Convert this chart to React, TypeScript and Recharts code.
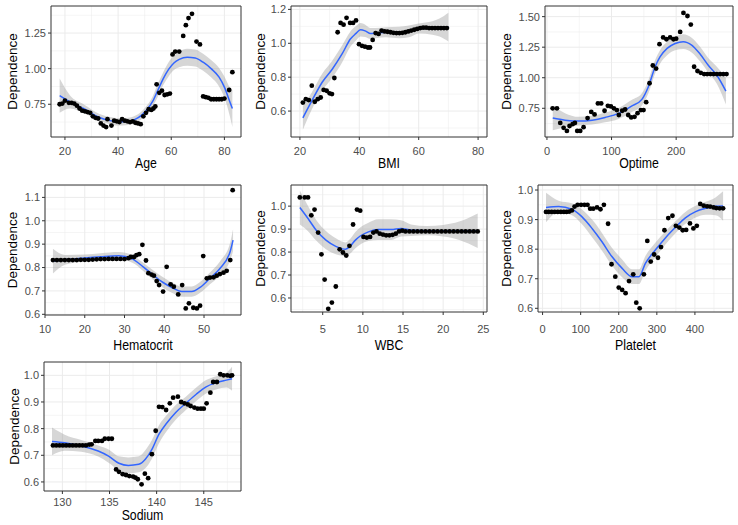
import { Area, CartesianGrid, ComposedChart, Label, Line, ReferenceArea, Scatter, XAxis, YAxis } from "recharts";

const FONT = '"Liberation Sans", Arial, sans-serif';

// points: [x, dependence]   fit: [x, lower, smooth, upper]
const agePoints = [
  [18, 0.75], [19, 0.755], [20, 0.775], [21.5, 0.76], [22.5, 0.76], [23.5, 0.755], [24.5, 0.74], [25.5, 0.72],
  [26.5, 0.705], [27.5, 0.7], [28.5, 0.695], [29.5, 0.69], [30.5, 0.665], [31.5, 0.655], [32.5, 0.65], [33.5, 0.615],
  [34.5, 0.6], [35.5, 0.59], [36, 0.645], [37.5, 0.6], [38.5, 0.635], [39.5, 0.63], [40.5, 0.625], [41.5, 0.645],
  [42.5, 0.635], [43.5, 0.63], [44.5, 0.625], [45.5, 0.63], [46.5, 0.62], [47.5, 0.615], [48.5, 0.61], [49.5, 0.665],
  [50.5, 0.69], [51.5, 0.715], [52.5, 0.71], [53.3, 0.72], [54, 0.735], [54.5, 0.89], [55.5, 0.83], [56.5, 0.845],
  [57.5, 0.815], [58.5, 0.82], [59.5, 0.825], [60.5, 1.1], [61.5, 1.12], [63, 1.12], [64.5, 1.23], [65.5, 1.305],
  [66.5, 1.355], [67.8, 1.385], [69.5, 1.19], [70.8, 1.17], [72, 0.805], [73, 0.8], [74, 0.795], [75, 0.785],
  [76, 0.785], [77, 0.785], [78, 0.785], [79, 0.785], [80, 0.79], [81.8, 0.85], [83, 0.975],
];
const ageFit = [
  [18, 0.69, 0.81, 0.93], [22, 0.72, 0.765, 0.81], [27, 0.69, 0.72, 0.75], [33, 0.632, 0.657, 0.682],
  [37, 0.61, 0.635, 0.66], [40, 0.6, 0.626, 0.652], [43, 0.603, 0.628, 0.653], [46, 0.615, 0.64, 0.665],
  [49, 0.648, 0.675, 0.702], [51, 0.685, 0.715, 0.745], [53, 0.735, 0.77, 0.805], [55, 0.805, 0.85, 0.895],
  [57, 0.885, 0.93, 0.975], [59, 0.945, 0.995, 1.045], [61, 0.99, 1.04, 1.09], [63, 1.01, 1.065, 1.12],
  [66, 1.02, 1.08, 1.14], [69, 1.015, 1.075, 1.135], [72, 0.985, 1.045, 1.105], [75, 0.94, 1.0, 1.06],
  [78, 0.875, 0.94, 1.005], [80, 0.795, 0.87, 0.945], [82, 0.67, 0.77, 0.87], [83, 0.59, 0.72, 0.85],
];

const bmiPoints = [
  [21, 0.65], [22, 0.67], [23, 0.665], [24, 0.75], [25, 0.655], [26, 0.67], [27, 0.68], [28, 0.725], [29, 0.72],
  [30, 0.705], [30.8, 0.7], [31.6, 0.795], [32.7, 1.065], [33.7, 1.12], [34.7, 1.11], [35.7, 1.15], [36.9, 1.12],
  [37.9, 1.12], [38.9, 1.135], [39.9, 0.995], [40.9, 0.985], [41.9, 0.98], [42.9, 0.975], [43.6, 0.975],
  [44.5, 1.02], [45.5, 1.06], [46.5, 1.055], [47.5, 1.075], [48.5, 1.07], [49.5, 1.068], [50.5, 1.065],
  [51.5, 1.062], [52.5, 1.06], [53.5, 1.06], [54.5, 1.062], [55.5, 1.065], [56.5, 1.07], [57.5, 1.075],
  [58.5, 1.08], [59.5, 1.085], [60.5, 1.09], [61.5, 1.092], [62.5, 1.092], [63.5, 1.09], [64.5, 1.09],
  [65.5, 1.09], [66.5, 1.09], [67.5, 1.09], [68.5, 1.09], [69.5, 1.09],
];
const bmiFit = [
  [21, 0.49, 0.56, 0.63], [24, 0.61, 0.66, 0.71], [27.5, 0.72, 0.77, 0.82], [31, 0.8, 0.85, 0.9],
  [34.3, 0.89, 0.94, 0.99], [37, 0.98, 1.025, 1.07], [38.8, 1.015, 1.057, 1.1], [40.4, 1.04, 1.08, 1.12],
  [42, 1.037, 1.073, 1.11], [43.8, 1.025, 1.057, 1.09], [45.5, 1.03, 1.06, 1.09], [49, 1.035, 1.065, 1.095],
  [53.4, 1.03, 1.063, 1.097], [56.7, 1.035, 1.07, 1.105], [60, 1.057, 1.087, 1.117], [64.6, 1.05, 1.09, 1.13],
  [67, 1.04, 1.093, 1.146], [70, 1.01, 1.096, 1.18],
];

const optimePoints = [
  [8.8, 0.75], [15.5, 0.75], [20.6, 0.63], [25.8, 0.59], [30.9, 0.565], [35, 0.605], [39.7, 0.62], [43.3, 0.63],
  [46.9, 0.565], [51.5, 0.565], [56.7, 0.595], [62.9, 0.67], [68.6, 0.72], [73.7, 0.7], [78.9, 0.79], [84, 0.79],
  [89.2, 0.73], [94.3, 0.77], [99, 0.765], [103.6, 0.75], [108.2, 0.735], [111.3, 0.695], [116.5, 0.73],
  [121, 0.74], [125.8, 0.695], [130.4, 0.675], [135.6, 0.68], [140.2, 0.71], [145.4, 0.735], [149.5, 0.735],
  [153.6, 0.8], [158.8, 0.955], [163.9, 1.1], [169, 1.075], [174.2, 1.275], [179.9, 1.33], [185, 1.315],
  [190.7, 1.33], [195.9, 1.315], [200, 1.32], [206.2, 1.375], [211.3, 1.53], [217.5, 1.505], [222.7, 1.435],
  [227.8, 1.09], [233, 1.055], [238.1, 1.04], [243.3, 1.03], [248, 1.03], [253, 1.03], [258, 1.03], [263, 1.03],
  [268, 1.03], [273, 1.03], [278, 1.03],
];
const optimeFit = [
  [9, 0.57, 0.67, 0.77], [28, 0.595, 0.653, 0.71], [49, 0.61, 0.645, 0.68], [70, 0.618, 0.653, 0.688],
  [90, 0.635, 0.675, 0.715], [111, 0.663, 0.708, 0.753], [131, 0.718, 0.768, 0.818], [147, 0.773, 0.823, 0.873],
  [157, 0.873, 0.926, 0.979], [167.5, 1.035, 1.09, 1.145], [175, 1.115, 1.17, 1.225], [186, 1.185, 1.24, 1.295],
  [198.5, 1.225, 1.28, 1.335], [211, 1.235, 1.295, 1.355], [224, 1.207, 1.267, 1.327], [237, 1.134, 1.194, 1.254],
  [250, 1.04, 1.1, 1.16], [263, 0.95, 1.02, 1.09], [277, 0.78, 0.89, 1.0],
];

const hematocritPoints = [
  [12, 0.832], [13, 0.832], [14, 0.832], [15, 0.832], [16, 0.832], [17, 0.832], [18, 0.832], [19, 0.833],
  [20, 0.833], [21, 0.833], [22, 0.834], [23, 0.835], [24, 0.836], [25, 0.836], [26, 0.837], [27, 0.837],
  [28, 0.837], [29, 0.837], [30, 0.836], [31, 0.84], [31.6, 0.845], [32.4, 0.845], [33, 0.853], [33.7, 0.857],
  [34.5, 0.897], [35.4, 0.83], [36, 0.776], [36.8, 0.77], [37.4, 0.765], [38.1, 0.742], [38.7, 0.725],
  [39.7, 0.697], [40.6, 0.803], [41.6, 0.728], [42.4, 0.718], [43.5, 0.685], [44.5, 0.725], [45.4, 0.625],
  [46.2, 0.647], [47.3, 0.628], [48.2, 0.625], [49, 0.637], [49.8, 0.849], [50.7, 0.754], [51.5, 0.757],
  [52.4, 0.758], [53.2, 0.765], [54, 0.772], [54.9, 0.778], [55.7, 0.786], [56.6, 0.832], [57.2, 1.131],
];
const hematocritFit = [
  [12, 0.775, 0.828, 0.88], [15, 0.812, 0.833, 0.854], [20, 0.826, 0.841, 0.856], [24, 0.831, 0.846, 0.861],
  [28.5, 0.834, 0.85, 0.866], [32, 0.82, 0.836, 0.852], [34.7, 0.785, 0.803, 0.821], [37.2, 0.748, 0.768, 0.788],
  [39.7, 0.714, 0.736, 0.758], [42.3, 0.689, 0.711, 0.733], [44.4, 0.675, 0.697, 0.719], [46.9, 0.675, 0.697, 0.719],
  [49, 0.692, 0.715, 0.738], [51.5, 0.729, 0.754, 0.779], [54, 0.766, 0.796, 0.826], [56.6, 0.832, 0.87, 0.908],
  [57.3, 0.87, 0.917, 0.964],
];

const wbcPoints = [
  [2.15, 1.038], [2.76, 1.038], [3.17, 1.038], [3.58, 0.96], [3.98, 0.985], [4.43, 0.885], [4.84, 0.79],
  [5.24, 0.68], [5.69, 0.553], [6.14, 0.58], [6.63, 0.65], [7.11, 0.812], [7.52, 0.798], [7.93, 0.785],
  [8.33, 0.827], [8.78, 0.92], [9.27, 0.985], [9.67, 0.98], [10.08, 0.866], [10.49, 0.863], [10.9, 0.866],
  [11.3, 0.885], [11.7, 0.89], [12.1, 0.88], [12.5, 0.876], [12.9, 0.873], [13.3, 0.873], [13.7, 0.875],
  [14.1, 0.88], [14.5, 0.89], [14.9, 0.893], [15.3, 0.89], [15.8, 0.89], [16.3, 0.89], [16.8, 0.89], [17.3, 0.89],
  [17.8, 0.89], [18.3, 0.89], [18.8, 0.89], [19.3, 0.89], [19.8, 0.89], [20.3, 0.89], [20.8, 0.89], [21.3, 0.89],
  [21.8, 0.89], [22.3, 0.89], [22.8, 0.89], [23.3, 0.89], [23.8, 0.89], [24.3, 0.89],
];
const wbcFit = [
  [2.15, 0.92, 0.994, 1.068], [3.17, 0.891, 0.946, 1.001], [4.19, 0.85, 0.895, 0.94], [5.4, 0.812, 0.852, 0.892],
  [6.63, 0.79, 0.825, 0.86], [7.85, 0.782, 0.812, 0.842], [8.46, 0.795, 0.827, 0.859], [9.07, 0.817, 0.852, 0.887],
  [9.67, 0.833, 0.87, 0.907], [10.7, 0.848, 0.888, 0.928], [11.9, 0.853, 0.898, 0.943], [13.5, 0.853, 0.898, 0.943],
  [14.76, 0.868, 0.903, 0.938], [16, 0.87, 0.895, 0.92], [18, 0.873, 0.893, 0.913], [20, 0.868, 0.893, 0.918],
  [22, 0.853, 0.893, 0.933], [24.3, 0.818, 0.893, 0.968],
];

const plateletPoints = [
  [9, 0.926], [16, 0.926], [24, 0.926], [32, 0.926], [40, 0.926], [48, 0.926], [56, 0.926], [63, 0.926], [70, 0.927],
  [77, 0.931], [84, 0.944], [92, 0.95], [101, 0.95], [110, 0.95], [118, 0.95], [125, 0.937], [133, 0.937],
  [143, 0.941], [152, 0.935], [161, 0.95], [172, 0.886], [181, 0.749], [191, 0.707], [200, 0.67], [209, 0.662],
  [218, 0.651], [227, 0.692], [238, 0.715], [246, 0.619], [255, 0.6], [266, 0.715], [275, 0.828], [284, 0.758],
  [293, 0.782], [303, 0.771], [311, 0.807], [320, 0.864], [330, 0.905], [341, 0.913], [350, 0.879], [359, 0.873],
  [368, 0.864], [377, 0.865], [387, 0.887], [396, 0.87], [405, 0.879], [414, 0.953], [423, 0.947], [432, 0.945],
  [440, 0.944], [449, 0.941], [456, 0.939], [465, 0.938], [474, 0.938],
];
const plateletFit = [
  [9, 0.891, 0.941, 0.991], [42, 0.924, 0.944, 0.964], [77, 0.915, 0.935, 0.955], [103, 0.885, 0.91, 0.935],
  [130, 0.84, 0.87, 0.9], [156, 0.795, 0.825, 0.855], [182, 0.745, 0.775, 0.805], [209, 0.705, 0.735, 0.765],
  [235, 0.682, 0.707, 0.732], [253, 0.682, 0.707, 0.732], [270, 0.727, 0.752, 0.777], [296, 0.772, 0.797, 0.822],
  [323, 0.817, 0.839, 0.861], [349, 0.854, 0.874, 0.894], [375, 0.886, 0.906, 0.926], [402, 0.907, 0.927, 0.947],
  [428, 0.916, 0.938, 0.96], [454, 0.915, 0.945, 0.975], [474, 0.896, 0.946, 0.996],
];

const sodiumPoints = [
  [129, 0.737], [129.35, 0.737], [129.7, 0.737], [130.05, 0.737], [130.4, 0.737], [130.75, 0.737], [131.1, 0.737],
  [131.45, 0.737], [131.8, 0.737], [132.15, 0.737], [132.5, 0.737], [132.85, 0.74], [133.1, 0.741], [133.5, 0.754],
  [133.8, 0.754], [134.2, 0.754], [134.5, 0.762], [134.9, 0.762], [135.25, 0.762], [135.7, 0.647], [136, 0.638],
  [136.4, 0.629], [136.75, 0.626], [137.1, 0.622], [137.5, 0.62], [137.75, 0.616], [138, 0.61], [138.4, 0.591],
  [138.75, 0.631], [139.1, 0.614], [139.5, 0.704], [139.9, 0.792], [140.25, 0.882], [140.6, 0.881], [141, 0.87],
  [141.4, 0.895], [141.75, 0.916], [142.25, 0.92], [142.6, 0.9], [142.95, 0.895], [143.3, 0.891], [143.6, 0.885],
  [144, 0.879], [144.35, 0.875], [144.7, 0.875], [145, 0.875], [145.3, 0.895], [145.7, 0.935], [146, 0.975],
  [146.4, 0.975], [146.75, 1.004], [147.1, 1.0], [147.5, 1.0], [147.8, 0.998], [148, 1.0],
];
const sodiumFit = [
  [128.9, 0.7, 0.752, 0.804], [130.25, 0.717, 0.747, 0.777], [132, 0.713, 0.735, 0.757], [133.8, 0.695, 0.716, 0.737],
  [134.9, 0.672, 0.697, 0.722], [136, 0.644, 0.67, 0.696], [137, 0.632, 0.662, 0.692], [138.1, 0.636, 0.666, 0.696],
  [138.8, 0.651, 0.685, 0.719], [139.5, 0.687, 0.722, 0.757], [140.25, 0.745, 0.779, 0.813], [141.1, 0.792, 0.822, 0.852],
  [142, 0.832, 0.86, 0.888], [143.1, 0.87, 0.895, 0.92], [144.2, 0.904, 0.929, 0.954], [145.25, 0.932, 0.957, 0.982],
  [146.3, 0.947, 0.972, 0.997], [147.4, 0.954, 0.982, 1.01], [148, 0.942, 0.987, 1.032],
];

// axis ticks (major) and minor grid lines
const ageXTicks = [20, 40, 60, 80];
const ageXMinor = [30, 50, 70];
const ageYTicks = [0.75, 1.0, 1.25];
const ageYMinor = [0.625, 0.875, 1.125, 1.375];
const bmiXTicks = [20, 40, 60, 80];
const bmiXMinor = [30, 50, 70];
const bmiYTicks = [0.6, 0.8, 1.0, 1.2];
const bmiYMinor = [0.5, 0.7, 0.9, 1.1];
const optimeXTicks = [0, 100, 200];
const optimeXMinor = [50, 150, 250];
const optimeYTicks = [0.75, 1.0, 1.25, 1.5];
const optimeYMinor = [0.625, 0.875, 1.125, 1.375];
const hematocritXTicks = [10, 20, 30, 40, 50];
const hematocritXMinor = [15, 25, 35, 45, 55];
const hematocritYTicks = [0.6, 0.7, 0.8, 0.9, 1.0, 1.1];
const hematocritYMinor = [0.65, 0.75, 0.85, 0.95, 1.05, 1.15];
const wbcXTicks = [5, 10, 15, 20, 25];
const wbcXMinor = [2.5, 7.5, 12.5, 17.5, 22.5];
const wbcYTicks = [0.6, 0.7, 0.8, 0.9, 1.0];
const wbcYMinor = [0.55, 0.65, 0.75, 0.85, 0.95, 1.05];
const plateletXTicks = [0, 100, 200, 300, 400];
const plateletXMinor = [50, 150, 250, 350, 450];
const plateletYTicks = [0.6, 0.7, 0.8, 0.9, 1.0];
const plateletYMinor = [0.65, 0.75, 0.85, 0.95];
const sodiumXTicks = [130, 135, 140, 145];
const sodiumXMinor = [132.5, 137.5, 142.5, 147.5];
const sodiumYTicks = [0.6, 0.7, 0.8, 0.9, 1.0];
const sodiumYMinor = [0.65, 0.75, 0.85, 0.95];

type Box = {
  col: number; left: number; top: number; right: number; bottom: number;
  titleX: number; axisH: number; tickGap: number;
};
type PanelProps = {
  name: string;
  points: number[][];
  fit: number[][];
  xDomain: [number, number];
  yDomain: [number, number];
  xTicks: number[];
  xMinor: number[];
  yTicks: number[];
  yMinor: number[];
  digits: number;
  box: Box;
};

const dot = (p: any) => <circle cx={p.cx} cy={p.cy} r={2.4} fill="#000" />;

function Panel({ name, points, fit, xDomain, yDomain, xTicks, xMinor, yTicks, yMinor, digits, box }: PanelProps) {
  const chartTop = box.top - 4;
  const width = box.right - box.col + 4;
  const height = box.bottom - chartTop + box.axisH + 5;
  const data = fit.map(([x, lo, y, hi]) => ({ x, y, band: [lo, hi] }));
  const pts = points.map(([x, y]) => ({ x, y }));
  const tickStyle = { fill: "#4D4D4D", fontSize: 11, fontFamily: FONT };

  return (
    <div style={{ position: "absolute", left: box.col, top: chartTop }}>
      <ComposedChart width={width} height={height} data={data} margin={{ top: 4, right: 4, bottom: 5, left: 0 }}>
        <CartesianGrid stroke="#EBEBEB" strokeWidth={0.5} verticalValues={xMinor} horizontalValues={yMinor} />
        <CartesianGrid stroke="#EBEBEB" strokeWidth={1} verticalValues={xTicks} horizontalValues={yTicks} />
        <XAxis type="number" dataKey="x" domain={xDomain} allowDataOverflow ticks={xTicks} interval={0}
          height={box.axisH} axisLine={false} tickLine={{ stroke: "#333333" }} tickSize={3} tickMargin={box.tickGap} tick={tickStyle}>
          <Label content={(props: any) => {
            const vb = props.viewBox;
            return (
              <text transform={`translate(${vb.x + vb.width / 2},${vb.y + vb.height}) scale(0.88,1)`}
                textAnchor="middle" fontSize={14} fontFamily={FONT} fill="#000">{name}</text>
            );
          }} />
        </XAxis>
        <YAxis type="number" domain={yDomain} allowDataOverflow ticks={yTicks} interval={0}
          width={box.left - box.col} axisLine={false} tickLine={{ stroke: "#333333" }} tickSize={3} tickMargin={2}
          tick={tickStyle} tickFormatter={(v: number) => v.toFixed(digits)}>
          <Label content={(props: any) => {
            const vb = props.viewBox;
            return (
              <text transform={`translate(${box.titleX - box.col},${vb.y + vb.height / 2}) rotate(-90) scale(1,0.88)`}
                textAnchor="middle" dominantBaseline="central" fontSize={13.5} fontFamily={FONT} fill="#000">Dependence</text>
            );
          }} />
        </YAxis>
        <Scatter data={pts} dataKey="y" shape={dot} isAnimationActive={false} />
        <Area dataKey="band" type="monotone" fill="#999999" fillOpacity={0.4} stroke="none" isAnimationActive={false} />
        <Line dataKey="y" type="monotone" stroke="#3366FF" strokeWidth={1.5} dot={false} activeDot={false} isAnimationActive={false} />
        <ReferenceArea x1={xDomain[0]} x2={xDomain[1]} y1={yDomain[0]} y2={yDomain[1]} fill="none" stroke="#333333" strokeWidth={1} ifOverflow="visible" />
      </ComposedChart>
    </div>
  );
}

export default function App() {
  return (
    <div style={{ position: "absolute", left: 0, top: 0, width: 738, height: 525, background: "#fff" }}>
      <Panel name="Age" points={agePoints} fit={ageFit} xDomain={[14.75, 86.25]} yDomain={[0.52, 1.44]}
        xTicks={ageXTicks} xMinor={ageXMinor} yTicks={ageYTicks} yMinor={ageYMinor} digits={2}
        box={{ col: 0, left: 51, top: 6, right: 241, bottom: 137, titleX: 13, axisH: 31, tickGap: 7 }} />
      <Panel name="BMI" points={bmiPoints} fit={bmiFit} xDomain={[17, 83]} yDomain={[0.447, 1.22]}
        xTicks={bmiXTicks} xMinor={bmiXMinor} yTicks={bmiYTicks} yMinor={bmiYMinor} digits={1}
        box={{ col: 246, left: 291, top: 6, right: 487, bottom: 137, titleX: 261, axisH: 31, tickGap: 7 }} />
      <Panel name="Optime" points={optimePoints} fit={optimeFit} xDomain={[-3, 288]} yDomain={[0.515, 1.587]}
        xTicks={optimeXTicks} xMinor={optimeXMinor} yTicks={optimeYTicks} yMinor={optimeYMinor} digits={2}
        box={{ col: 492, left: 545, top: 6, right: 733, bottom: 137, titleX: 507, axisH: 31, tickGap: 7 }} />
      <Panel name="Hematocrit" points={hematocritPoints} fit={hematocritFit} xDomain={[10, 59.3]} yDomain={[0.597, 1.153]}
        xTicks={hematocritXTicks} xMinor={hematocritXMinor} yTicks={hematocritYTicks} yMinor={hematocritYMinor} digits={1}
        box={{ col: 0, left: 45, top: 185, right: 241, bottom: 315, titleX: 13, axisH: 35, tickGap: 7 }} />
      <Panel name="WBC" points={wbcPoints} fit={wbcFit} xDomain={[1.05, 25.46]} yDomain={[0.539, 1.092]}
        xTicks={wbcXTicks} xMinor={wbcXMinor} yTicks={wbcYTicks} yMinor={wbcYMinor} digits={1}
        box={{ col: 246, left: 291, top: 185, right: 487, bottom: 312, titleX: 261, axisH: 38, tickGap: 10 }} />
      <Panel name="Platelet" points={plateletPoints} fit={plateletFit} xDomain={[-12, 500]} yDomain={[0.5875, 1.017]}
        xTicks={plateletXTicks} xMinor={plateletXMinor} yTicks={plateletYTicks} yMinor={plateletYMinor} digits={1}
        box={{ col: 492, left: 538, top: 185, right: 733, bottom: 312, titleX: 507, axisH: 38, tickGap: 10 }} />
      <Panel name="Sodium" points={sodiumPoints} fit={sodiumFit} xDomain={[128.05, 148.95]} yDomain={[0.566, 1.05]}
        xTicks={sodiumXTicks} xMinor={sodiumXMinor} yTicks={sodiumYTicks} yMinor={sodiumYMinor} digits={1}
        box={{ col: 0, left: 44, top: 362, right: 241, bottom: 491, titleX: 15, axisH: 29, tickGap: 4 }} />
    </div>
  );
}
